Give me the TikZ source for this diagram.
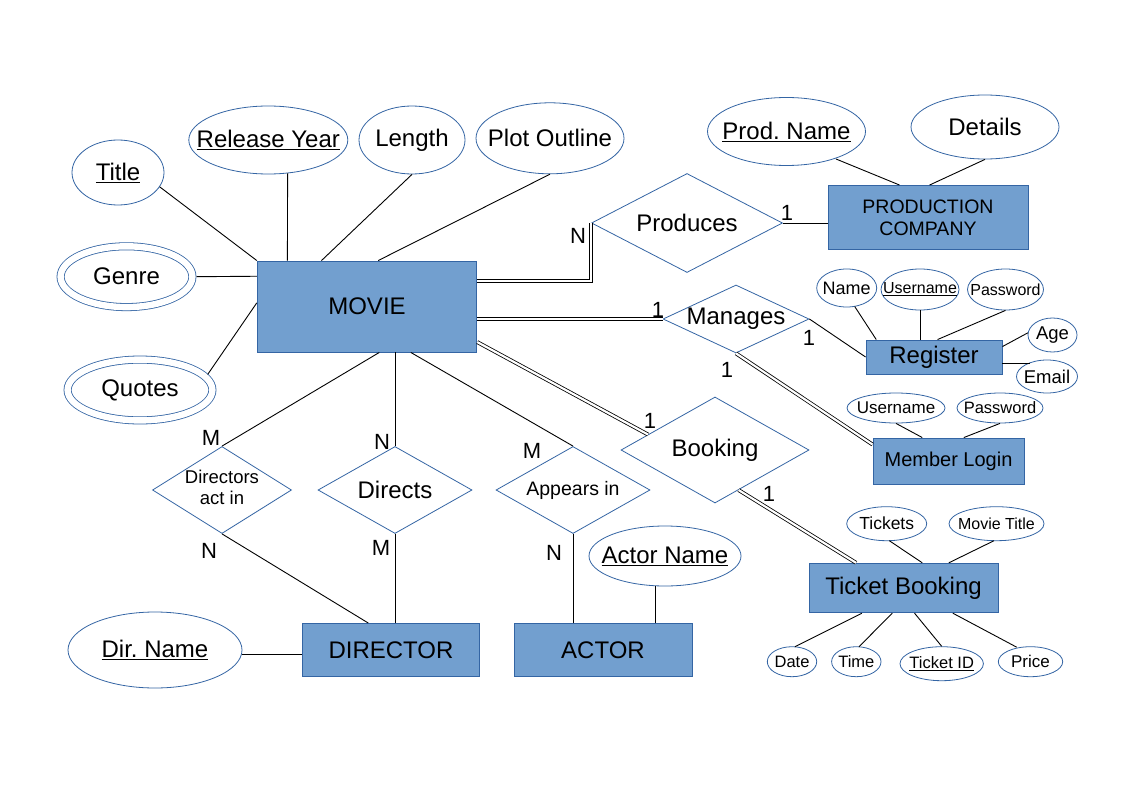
\documentclass[tikz,border=0pt]{standalone}
\usepackage{fontspec}
\setmainfont{Liberation Sans}
\usetikzlibrary{shapes.geometric,calc}
\newcommand\fsz[1]{\fontsize{#1}{#1}\selectfont}
\newcommand\tx[1]{\makebox[0pt]{#1}}
\newcommand\txx[2]{\makebox[0pt]{\begin{tabular}{@{}c@{}}#1\\#2\end{tabular}}}
\definecolor{entfill}{HTML}{729FCF}
\definecolor{entborder}{HTML}{3465A4}
\definecolor{attrborder}{HTML}{3465A4}
\tikzset{
  ent/.style={draw=entborder, fill=entfill, line width=0.9pt, inner sep=0pt, align=center, font=\fsz{24}},
  attr/.style={ellipse, draw=attrborder, line width=0.8pt, inner sep=0pt, font=\fsz{24}},
  multi/.style={ellipse, draw=attrborder, double=white, double distance=6.4pt, line width=0.8pt, inner sep=0pt, font=\fsz{24}},
  rel/.style={diamond, draw=attrborder, line width=0.8pt, inner sep=0pt, font=\fsz{24}},
  con/.style={draw=black, line width=0.9pt},
  dbl/.style={draw=black, double=white, double distance=2.2pt, line width=0.8pt},
  card/.style={font=\fsz{22}, inner sep=0pt},
}
\begin{document}
\frenchspacing
\begin{tikzpicture}[x=1pt,y=-1pt]
\useasboundingbox (0,0) rectangle (1123,794);
\fill[white] (0,0) rectangle (1123,794);

% entities
\node[ent, minimum width=219.5, minimum height=91] (movie) at (367,306.5) {MOVIE};
\node[ent, minimum width=200, minimum height=64, font=\fontsize{19.5}{22}\selectfont] (pc) at (928,217.5) {PRODUCTION\\COMPANY};
\node[ent, minimum width=136, minimum height=34] (register) at (934,357) {Register};
\node[ent, minimum width=151, minimum height=46, font=\fsz{20}] (member) at (948.5,461) {Member Login};
\node[ent, minimum width=189, minimum height=49.5] (tb) at (903.5,588) {Ticket Booking};
\node[ent, minimum width=177.5, minimum height=53] (director) at (391,650) {DIRECTOR};
\node[ent, minimum width=178, minimum height=53] (actor) at (603,650) {ACTOR};

% relationships
\node[rel, minimum width=191, minimum height=99] (produces) at (687,223) {\tx{Produces}};
\node[rel, minimum width=146, minimum height=68] (manages) at (736,319) {\tx{Manages}};
\node[rel, minimum width=188, minimum height=106] (booking) at (715,450) {\tx{Booking}};
\node[rel, minimum width=139, minimum height=87, font=\fontsize{18.5}{21}\selectfont] (dact) at (222,490) {\txx{Directors}{act in}};
\node[rel, minimum width=154, minimum height=87] (directs) at (395,490) {\tx{Directs}};
\node[rel, minimum width=154, minimum height=87, font=\fsz{19.5}] (appears) at (573,490) {\tx{Appears in}};

% attributes
\node[attr, minimum width=92, minimum height=65] (title) at (118,172.5) {\tx{\underline{Title}}};
\node[attr, minimum width=159, minimum height=68] (rely) at (268.3,140) {\tx{\underline{Release Year}}};
\node[attr, minimum width=106, minimum height=68] (length) at (412,140) {\tx{Length}};
\node[attr, minimum width=148, minimum height=71] (plot) at (550,138.3) {\tx{Plot Outline}};
\node[multi, minimum width=131.8, minimum height=60.8] (genre) at (126.5,276.7) {\tx{Genre}};
\node[multi, minimum width=144.8, minimum height=60.8] (quotes) at (140,390) {\tx{Quotes}};
\node[attr, minimum width=158, minimum height=68] (prodname) at (786.5,131.5) {\tx{\underline{Prod. Name}}};
\node[attr, minimum width=148, minimum height=64] (details) at (985,127) {\tx{Details}};
\node[attr, minimum width=60, minimum height=38, font=\fsz{18}] (name) at (846.7,288) {\tx{Name}};
\node[attr, minimum width=78, minimum height=41, font=\fsz{16}] (uname) at (920,289.5) {\tx{\underline{Username}}};
\node[attr, minimum width=76, minimum height=41, font=\fsz{16}] (pword) at (1005.5,289.5) {\tx{Password}};
\node[attr, minimum width=49, minimum height=34, font=\fsz{18.5}] (age) at (1052.5,335) {\tx{Age}};
\node[attr, minimum width=61, minimum height=33, font=\fsz{18.5}] (email) at (1047,376.5) {\tx{Email}};
\node[attr, minimum width=98, minimum height=30, font=\fsz{17}] (muname) at (896,408) {\tx{Username}};
\node[attr, minimum width=86, minimum height=30, font=\fsz{16.5}] (mpword) at (1000,408) {\tx{Password}};
\node[attr, minimum width=80, minimum height=34, font=\fsz{17.5}] (tickets) at (886.7,523.7) {\tx{Tickets}};
\node[attr, minimum width=95, minimum height=34, font=\fsz{16}] (mtitle) at (996.5,523.7) {\tx{Movie Title}};
\node[attr, minimum width=49.4, minimum height=30, font=\fsz{16.5}] (date) at (792,661.7) {\tx{Date}};
\node[attr, minimum width=49.4, minimum height=30, font=\fsz{16.5}] (time) at (856.3,661.7) {\tx{Time}};
\node[attr, minimum width=83.4, minimum height=34, font=\fsz{16.5}] (tid) at (941.7,663.7) {\tx{\underline{Ticket ID}}};
\node[attr, minimum width=64.4, minimum height=30, font=\fsz{17}] (price) at (1030.5,661.7) {\tx{Price}};
\node[attr, minimum width=152, minimum height=60] (actorname) at (665,556) {\tx{\underline{Actor Name}}};
\node[attr, minimum width=174, minimum height=76] (dirname) at (155,650) {\tx{\underline{Dir. Name}}};

% attribute connectors
\draw[con] (title.-19) -- (movie.north west);
\draw[con] ($(rely.south)+(19.3,-1)$) -- ($(movie.north west)+(30.6,0)$);
\draw[con] (length.south) -- ($(movie.north west)+(64.7,0)$);
\draw[con] (plot.south) -- ($(movie.north west)+(121.4,0)$);
\draw[con] ($(genre.center)+(70,0)$) -- ($(movie.north west)+(0,15.7)$);
\draw[con] ($(quotes.center)+(67.7,-15.6)$) -- ($(movie.north west)+(0,42.3)$);
\draw[con] ($(prodname.center)+(49.5,27.5)$) -- ($(pc.north west)+(72,0)$);
\draw[con] (details.south) -- ($(pc.north west)+(102,0)$);
\draw[con] ($(name.center)+(8,18.5)$) -- ($(register.north west)+(10.7,0)$);
\draw[con] (uname.south) -- (uname.south |- register.north);
\draw[con] (pword.south) -- ($(register.north west)+(72,0)$);
\draw[con] (age.175) -- ($(register.north east)+(0,7)$);
\draw[con] ($(register.east)+(0,6)$) -- ($(email.center)+(-17,-13.5)$);
\draw[con] (muname.south) -- ($(member.north west)+(49.7,0)$);
\draw[con] (mpword.south) -- ($(member.north west)+(91.3,0)$);
\draw[con] ($(tickets.center)+(2.6,17)$) -- ($(tb.north west)+(113.7,0)$);
\draw[con] ($(mtitle.center)+(-2.5,17)$) -- ($(tb.north west)+(140.3,0)$);
\draw[con] ($(date.center)+(3,-15)$) -- ($(tb.south west)+(53.3,0)$);
\draw[con] ($(time.center)+(2.7,-15)$) -- ($(tb.south west)+(83.7,0)$);
\draw[con] (tid.north) -- ($(tb.south west)+(106,0)$);
\draw[con] ($(price.center)+(-13.8,-14.5)$) -- ($(tb.south west)+(144.3,0)$);
\coordinate (anfoot) at ($(actorname.south)+(-10,-0.5)$);
\draw[con] (anfoot) -- (anfoot |- actor.north);
\draw[con] ($(dirname.east)+(0,4)$) -- ($(director.west)+(0,4)$);

% relationship connectors
\draw[dbl] ($(movie.north east)+(0,20.3)$) -| (produces.west);
\draw[con] (produces.east) -- (produces.east -| pc.west);
\draw[dbl] (manages.west -| movie.east) -- (manages.west);
\draw[con] (manages.east) -- (register.west);
\draw[dbl] (manages.south) -- ($(member.north west)+(0,7)$);
\draw[dbl] ($(movie.north east)+(0,81.5)$) -- ($(booking.west)!0.29!(booking.north)$);
\draw[dbl] ($(booking.south)!0.25!(booking.east)$) -- ($(tb.north west)+(47.5,0)$);
\draw[con] ($(movie.south west)+(122.5,0)$) -- (dact.north);
\draw[con] (directs.north |- movie.south) -- (directs.north);
\draw[con] ($(movie.south west)+(154,0)$) -- (appears.north);
\draw[con] (dact.south) -- ($(director.north west)+(66.5,0)$);
\draw[con] (directs.south) -- (directs.south |- director.north);
\draw[con] (appears.south) -- (appears.south |- actor.north);

% cardinalities
\node[card] (cN1) at (578,236) {N};
\node[card] (c11) at (787,213) {1};
\node[card] (c12) at (658,310) {1};
\node[card] (c13) at (809,338) {1};
\node[card] (c14) at (727,370) {1};
\node[card] (c15) at (650,421) {1};
\node[card] (c16) at (769,494) {1};
\node[card] (cM1) at (211,438) {M};
\node[card] (cN2) at (382,442) {N};
\node[card] (cM2) at (532,451) {M};
\node[card] (cN3) at (209,551) {N};
\node[card] (cM3) at (381,548) {M};
\node[card] (cN4) at (554,553) {N};
\end{tikzpicture}
\end{document}
